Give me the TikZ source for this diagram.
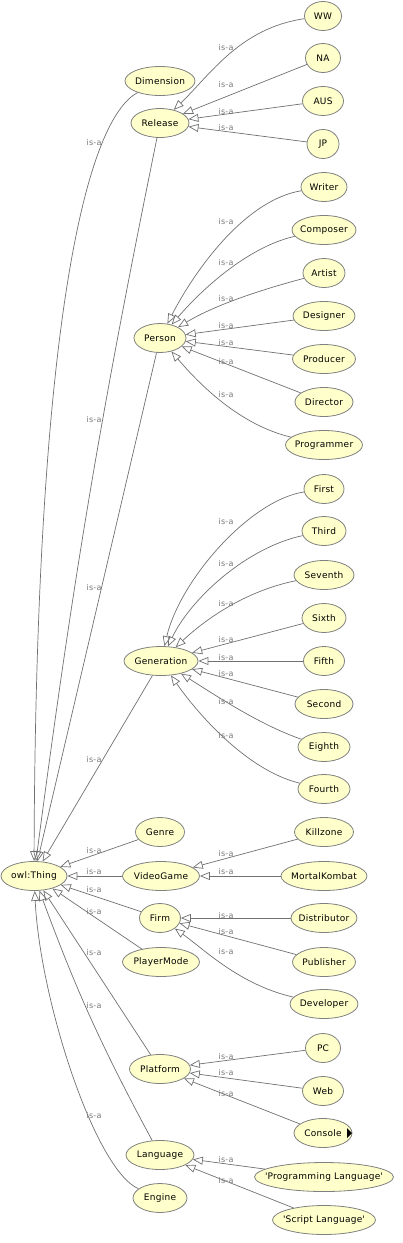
\documentclass[tikz,border=0pt]{standalone}
\usepackage{fontspec}
\newfontfamily\clsfont{DejaVu Sans}[LetterSpace=3]
\usetikzlibrary{shapes.geometric,arrows.meta}

\definecolor{nodefill}{RGB}{255,255,204}
\definecolor{nodeline}{RGB}{128,128,128}
\definecolor{edgeline}{RGB}{112,112,112}
\definecolor{lblgray}{RGB}{120,120,120}

\begin{document}
\begin{tikzpicture}[x=1pt,y=1pt,
  cls/.style={ellipse, draw=nodeline, fill=nodefill, line width=0.8pt,
    inner xsep=-12pt, inner ysep=0pt, minimum height=29pt,
    font=\clsfont\fontsize{9}{10}\selectfont},
  isa/.style={draw=edgeline, line width=0.7pt,
    -{Triangle[open, length=10pt, width=8pt]}},
  lbl/.style={text=lblgray, inner sep=0pt,
    font=\clsfont\fontsize{8}{9}\selectfont}]

\useasboundingbox (0,0) rectangle (403,-1243);

% Draw the classes
\node[cls, minimum width=66pt] (Thing) at (34,-876) {owl:Thing};

\node[cls, minimum width=70pt] (Dimension) at (160,-81) {Dimension};
\node[cls, minimum width=58pt] (Release) at (160,-123) {Release};
\node[cls, minimum width=37pt] (WW) at (323,-16) {WW};
\node[cls, minimum width=35pt] (NA) at (323,-58) {NA};
\node[cls, minimum width=41pt] (AUS) at (323,-101) {AUS};
\node[cls, minimum width=32pt] (JP) at (323,-144) {JP};

\node[cls, minimum width=52pt] (Person) at (160,-338) {Person};
\node[cls, minimum width=46pt] (Writer) at (324,-187) {Writer};
\node[cls, minimum width=64pt] (Composer) at (324,-230) {Composer};
\node[cls, minimum width=42pt] (Artist) at (324,-273) {Artist};
\node[cls, minimum width=62pt] (Designer) at (324,-316) {Designer};
\node[cls, minimum width=63pt] (Producer) at (324,-359) {Producer};
\node[cls, minimum width=58pt] (Director) at (324,-402) {Director};
\node[cls, minimum width=77pt] (Programmer) at (324,-445) {Programmer};

\node[cls, minimum width=74pt] (Generation) at (161,-661) {Generation};
\node[cls, minimum width=40pt] (First) at (324,-489) {First};
\node[cls, minimum width=44pt] (Third) at (324,-531) {Third};
\node[cls, minimum width=60pt] (Seventh) at (324,-575) {Seventh};
\node[cls, minimum width=44pt] (Sixth) at (324,-618) {Sixth};
\node[cls, minimum width=41pt] (Fifth) at (324,-661) {Fifth};
\node[cls, minimum width=58pt] (Second) at (324,-704) {Second};
\node[cls, minimum width=52pt] (Eighth) at (324,-747) {Eighth};
\node[cls, minimum width=52pt] (Fourth) at (324,-789) {Fourth};

\node[cls, minimum width=49pt] (Genre) at (160,-832) {Genre};
\node[cls, minimum width=77pt] (VideoGame) at (161,-876) {VideoGame};
\node[cls, minimum width=59pt] (Killzone) at (324,-832) {Killzone};
\node[cls, minimum width=86pt] (MortalKombat) at (324,-876) {MortalKombat};
\node[cls, minimum width=41pt] (Firm) at (160,-918) {Firm};
\node[cls, minimum width=66pt] (Distributor) at (324,-918) {Distributor};
\node[cls, minimum width=63pt] (Publisher) at (324,-962) {Publisher};
\node[cls, minimum width=68pt] (Developer) at (324,-1004) {Developer};
\node[cls, minimum width=77pt] (PlayerMode) at (161,-962) {PlayerMode};

\node[cls, minimum width=61pt] (Platform) at (160,-1069) {Platform};
\node[cls, minimum width=35pt] (PC) at (323,-1048) {PC};
\node[cls, minimum width=41pt] (Web) at (323,-1091) {Web};
\node[cls, minimum width=58pt] (Console) at (323,-1133) {Console};
\node[cls, minimum width=68pt] (Language) at (160,-1155) {Language};
\node[cls, minimum width=139pt] (ProgLang) at (324,-1177)
  {\textquotesingle Programming Language\textquotesingle};
\node[cls, minimum width=103pt] (ScriptLang) at (324,-1220)
  {\textquotesingle Script Language\textquotesingle};
\node[cls, minimum width=54pt] (Engine) at (160,-1198) {Engine};

%% Release
\draw[isa] (WW) .. controls (240,-28) and (210,-75) .. (Release);
\draw[isa] (NA) -- (Release);
\draw[isa] (AUS) -- (Release);
\draw[isa] (JP) -- (Release);

%% Person
\draw[isa] (Writer) .. controls (245,-200) and (195,-270) .. (Person);
\draw[isa] (Composer) .. controls (255,-245) and (210,-280) .. (Person);
\draw[isa] (Artist) .. controls (260,-290) and (215,-305) .. (Person);
\draw[isa] (Designer) -- (Person);
\draw[isa] (Producer) -- (Person);
\draw[isa] (Director) -- (Person);
\draw[isa] (Programmer) .. controls (240,-425) and (200,-385) .. (Person);

%% Generation
\draw[isa] (First) .. controls (250,-500) and (180,-580) .. (Generation);
\draw[isa] (Third) .. controls (245,-548) and (190,-600) .. (Generation);
\draw[isa] (Seventh) .. controls (250,-590) and (210,-615) .. (Generation);
\draw[isa] (Sixth) -- (Generation);
\draw[isa] (Fifth) -- (Generation);
\draw[isa] (Second) -- (Generation);
\draw[isa] (Eighth) .. controls (260,-725) and (215,-695) .. (Generation);
\draw[isa] (Fourth) .. controls (245,-770) and (195,-710) .. (Generation);

%% VideoGame and Firm
\draw[isa] (Killzone) -- (VideoGame);
\draw[isa] (MortalKombat) -- (VideoGame);
\draw[isa] (Distributor) -- (Firm);
\draw[isa] (Publisher) -- (Firm);
\draw[isa] (Developer) .. controls (240,-985) and (205,-950) .. (Firm);

%% Platform and Language
\draw[isa] (PC) -- (Platform);
\draw[isa] (Web) -- (Platform);
\draw[isa] (Console) -- (Platform);
\draw[isa] (ProgLang) -- (Language);
\draw[isa] (ScriptLang) -- (Language);

%% owl:Thing
\draw[isa] (Dimension) .. controls (85,-120) and (36,-330) .. (Thing);
\draw[isa] (Release) to[bend right=2] (Thing);
\draw[isa] (Person) -- (Thing);
\draw[isa] (Generation) -- (Thing);
\draw[isa] (Genre) -- (Thing);
\draw[isa] (VideoGame) -- (Thing);
\draw[isa] (Firm) -- (Thing);
\draw[isa] (PlayerMode) -- (Thing);
\draw[isa] (Platform) -- (Thing);
\draw[isa] (Language) to[bend left=4] (Thing);
\draw[isa] (Engine) .. controls (95,-1170) and (40,-1000) .. (Thing);

%% Add the is-a labels
\foreach \x/\y in {226/48, 226/85, 226/112, 226/128,
    226/222, 226/263, 226/299, 226/326, 226/343, 226/362, 226/395,
    226/522, 226/564, 226/604, 226/640, 226/658, 226/674, 226/702, 226/736,
    226/854, 226/872, 226/916, 226/932, 226/952,
    226/1057, 226/1073, 226/1094, 226/1160, 226/1181,
    94/143, 94/420, 94/588, 94/760, 94/851, 94/872, 94/890, 94/912,
    94/953, 94/1006, 94/1116}
  \node[lbl] (isa-\x-\y) at (\x,-\y) {is-a};

% Expand marker on Console
\fill (347,-1128) -- (352,-1133) -- (347,-1138) -- cycle;

\end{tikzpicture}
\end{document}
